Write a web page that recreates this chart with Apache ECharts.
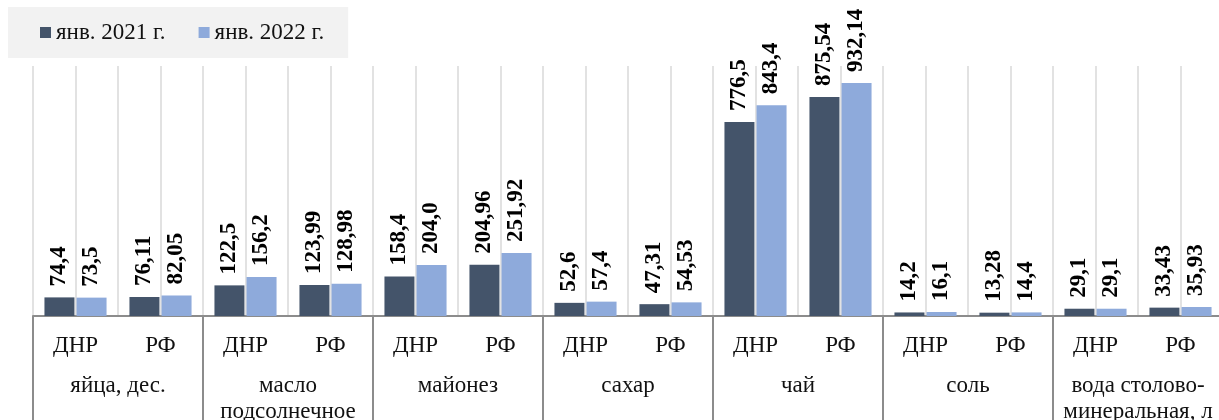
<!DOCTYPE html>
<html>
<head>
<meta charset="utf-8">
<script src="https://cdn.jsdelivr.net/npm/echarts@6/dist/echarts.min.js"></script>
<style>
  html, body { margin: 0; padding: 0; background: #fff; }
  #chart { width: 1219px; height: 420px; }
</style>
</head>
<body>
<div id="chart"></div>
<script>
// Product groups (lower row of the category axis)
const groups = ['яйца, дес.', 'масло\nподсолнечное', 'майонез', 'сахар', 'чай', 'соль', 'вода столово-\nминеральная, л'];
// Regions within each group (upper row of the category axis)
const regions = ['ДНР', 'РФ'];
// Series names
const seriesNames = ['янв. 2021 г.', 'янв. 2022 г.'];
// Prices as printed, in order: group by group, ДНР then РФ
const jan2021 = ['74,4', '76,11', '122,5', '123,99', '158,4', '204,96', '52,6', '47,31', '776,5', '875,54', '14,2', '13,28', '29,1', '33,43'];
const jan2022 = ['73,5', '82,05', '156,2', '128,98', '204,0', '251,92', '57,4', '54,53', '843,4', '932,14', '16,1', '14,4', '29,1', '35,93'];

const toNum = s => parseFloat(s.replace(',', '.'));
const regionCats = groups.flatMap(() => regions);
// half-category slots used only for the vertical guide lines
const halfSlots = regionCats.flatMap((r, i) => [i + 'a', i + 'b']);

const FONT = 'Liberation Serif';
const FS = 23;
const AXIS_GREY = '#8c8c8c';

const makeSeries = (name, labels, color) => ({
  name,
  type: 'bar',
  xAxisIndex: 0,
  barWidth: 30,
  barGap: '7%',
  data: labels.map(toNum),
  itemStyle: { color },
  label: {
    show: true,
    position: 'top',
    rotate: 90,
    align: 'left',
    verticalAlign: 'middle',
    distance: 11,
    fontFamily: FONT,
    fontSize: FS,
    fontWeight: 'bold',
    color: '#000',
    formatter: p => labels[p.dataIndex]
  }
});

const chart = echarts.init(document.getElementById('chart'), null, { renderer: 'canvas' });
chart.setOption({
  animation: false,
  backgroundColor: '#fff',
  legend: {
    left: 8,
    top: 7,
    padding: [14, 24, 14, 32],
    backgroundColor: '#f2f2f2',
    itemGap: 33,
    itemWidth: 11,
    itemHeight: 11,
    icon: 'rect',
    data: seriesNames,
    textStyle: { fontFamily: FONT, fontSize: FS, color: '#111' }
  },
  grid: {
    left: 33,
    top: 66,
    width: 1190,
    height: 250,
    outerBoundsMode: 'none',
    containLabel: false
  },
  xAxis: [
    {
      type: 'category',
      data: regionCats,
      position: 'bottom',
      axisLine: { show: true, lineStyle: { color: AXIS_GREY, width: 2 } },
      axisTick: { show: false },
      splitLine: { show: false },
      axisLabel: { interval: 0, margin: 18, fontFamily: FONT, fontSize: FS, color: '#111' }
    },
    {
      type: 'category',
      data: groups,
      position: 'bottom',
      axisLine: { show: false },
      axisTick: { show: true, interval: 0, length: 110, lineStyle: { color: AXIS_GREY, width: 2 } },
      splitLine: { show: false },
      axisLabel: { interval: 0, margin: 57, fontFamily: FONT, fontSize: FS, lineHeight: 26, color: '#111' }
    },
    {
      type: 'category',
      data: halfSlots,
      position: 'top',
      axisLine: { show: false },
      axisTick: { show: false },
      axisLabel: { show: false },
      splitLine: { show: true, interval: 0, lineStyle: { color: '#d9d9d9', width: 1.5 } }
    }
  ],
  yAxis: {
    type: 'value',
    min: 0,
    max: 1000,
    show: false,
    splitLine: { show: false }
  },
  series: [
    makeSeries(seriesNames[0], jan2021, '#44546a'),
    makeSeries(seriesNames[1], jan2022, '#8eaadb')
  ]
});
</script>
</body>
</html>
